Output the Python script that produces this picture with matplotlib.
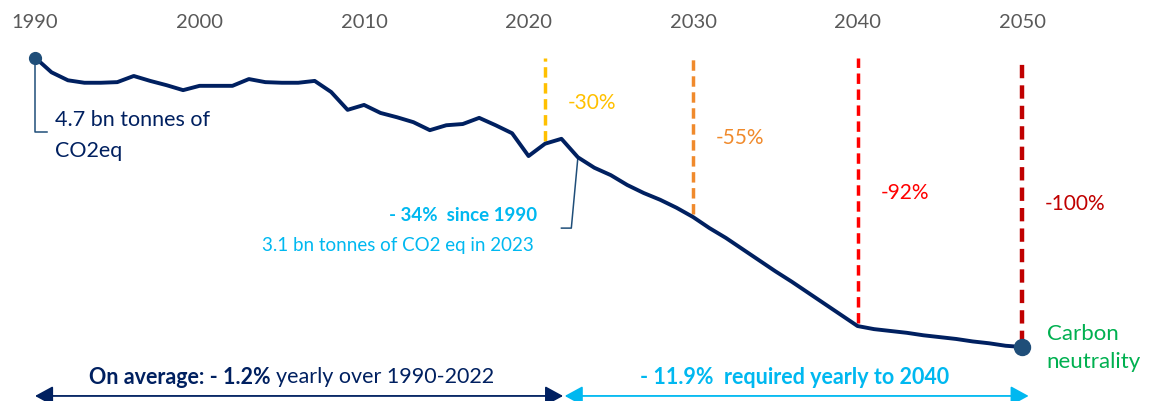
import matplotlib.pyplot as plt
from matplotlib.patches import FancyArrowPatch

plt.rcParams['font.family'] = ['Lato', 'DejaVu Sans']

# emissions, bn tonnes CO2eq (history to 2023, then target path)
years = list(range(1990, 2051))
emissions = [4.70, 4.46, 4.33, 4.29, 4.29, 4.30, 4.40, 4.32, 4.25, 4.17,
             4.24, 4.24, 4.24, 4.35, 4.30, 4.29, 4.29, 4.32, 4.14, 3.85,
             3.93, 3.80, 3.73, 3.65, 3.52, 3.60, 3.62, 3.72, 3.60, 3.47,
             3.10, 3.30, 3.38, 3.08, 2.91, 2.79, 2.63, 2.50, 2.39, 2.26,
             2.11, 1.93, 1.77, 1.59, 1.41, 1.23, 1.06, 0.88, 0.70, 0.52,
             0.34, 0.29, 0.26, 0.23, 0.19, 0.16, 0.13, 0.09, 0.06, 0.02,
             0.00]

tick_years = [1990, 2000, 2010, 2020, 2030, 2040, 2050]

target_years = [2021, 2030, 2040, 2050]
target_labels = ['-30%', '-55%', '-92%', '-100%']
target_colors = ['#FFC000', '#F08A2C', '#FF0000', '#C00000']
target_label_y = [3.96, 3.39, 2.50, 2.32]

navy = '#002060'
dot = '#1F4E79'
cyan = '#00B8F0'
green = '#00B050'

fig = plt.figure(figsize=(11.53, 4.01), dpi=100)
ax = fig.add_axes([0, 0, 1, 356 / 401])
ax.set_xlim(1987.87, 2057.96)
ax.set_ylim(-0.877, 4.903)
for s in ax.spines.values():
    s.set_visible(False)
ax.set_yticks([])
ax.xaxis.tick_top()
ax.set_xticks(tick_years)
ax.set_xticklabels([str(y) for y in tick_years])
ax.tick_params(axis='x', length=0, pad=10, labelsize=14.5, labelcolor='#595959')

# target dashed lines, from top down to the path
for yr, lab, col, ly in zip(target_years, target_labels, target_colors, target_label_y):
    val = emissions[years.index(yr)]
    lw = 3.2 if yr == 2050 else 2.5
    ax.vlines(yr, val + 0.05, 4.70, colors=col, linewidth=lw,
              linestyles=(0, (3, 1.6)), zorder=2)
    ax.text(yr + 1.4, ly, lab, color=col, fontsize=15, va='center', ha='left')

ax.plot(years, emissions, color=navy, linewidth=2.8, zorder=3,
        solid_joinstyle='round', clip_on=False)
ax.plot([1990], [emissions[0]], 'o', color=dot, markersize=8.5, zorder=4)
ax.plot([2050], [emissions[-1]], 'o', color=dot, markersize=11.5, zorder=4, clip_on=False)

# 1990 annotation
ax.plot([1990, 1990, 1990.75], [4.70, 3.49, 3.49], color=dot, linewidth=1.1, zorder=2)
ax.text(1991.2, 3.68, '4.7 bn tonnes of', color=navy, fontsize=15.5, va='center')
ax.text(1991.2, 3.19, 'CO2eq', color=navy, fontsize=15.5, va='center')

# 2023 annotation
ax.plot([2023, 2022.6, 2022.0], [3.08, 1.93, 1.93], color=dot, linewidth=1.1, zorder=2)
ax.text(2020.5, 2.14, '- 34%  since 1990', color=cyan, fontsize=13.5,
        fontweight='bold', va='center', ha='right')
ax.text(2020.3, 1.65, '3.1 bn tonnes of CO2 eq in 2023', color=cyan,
        fontsize=13.5, va='center', ha='right')

# carbon neutrality
ax.text(2051.5, 0.21, 'Carbon', color=green, fontsize=16, va='center')
ax.text(2051.5, -0.24, 'neutrality', color=green, fontsize=16, va='center')

# bottom arrows
arrow_y = -0.795
ax.add_patch(FancyArrowPatch((1990, arrow_y), (2022.1, arrow_y),
                             arrowstyle='<|-|>,head_length=11,head_width=6',
                             color=navy, linewidth=1.3, shrinkA=0, shrinkB=0,
                             clip_on=False))
ax.add_patch(FancyArrowPatch((2022.2, arrow_y), (2050.4, arrow_y),
                             arrowstyle='<|-|>,head_length=11,head_width=6',
                             color=cyan, linewidth=1.3, shrinkA=0, shrinkB=0,
                             clip_on=False))

text_y = -0.49
ax.text(2004.3, text_y, 'On average: - 1.2%', color=navy, fontsize=15.5,
        fontweight='bold', va='center', ha='right')
ax.text(2004.65, text_y, 'yearly over 1990-2022', color=navy, fontsize=15.5,
        va='center', ha='left')
ax.text(2036.2, text_y, '- 11.9%  required yearly to 2040', color=cyan,
        fontsize=15.5, fontweight='bold', va='center', ha='center')

fig.savefig('out.png', dpi=100)
